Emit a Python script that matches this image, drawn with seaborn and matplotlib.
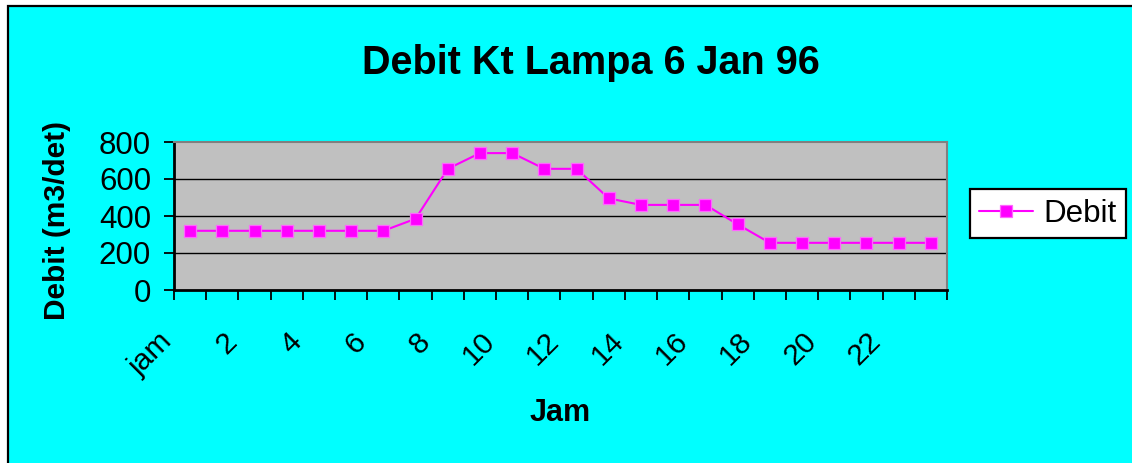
import matplotlib
matplotlib.use("Agg")
import matplotlib.pyplot as plt
import matplotlib.transforms as mtransforms
import seaborn as sns
import pandas as pd
import numpy as np
from matplotlib.patches import Rectangle

# ---- data ----
hours = list(range(24))
debit = [320, 320, 320, 320, 320, 320, 320, 385, 655, 740, 740, 655,
         655, 495, 460, 460, 460, 355, 255, 255, 255, 255, 255, 255]
tick_positions = list(range(0, 24, 2))
tick_labels = ["jam", "2", "4", "6", "8", "10", "12", "14", "16", "18", "20", "22"]
y_ticks = [0, 200, 400, 600, 800]
series_name = "Debit"

df = pd.DataFrame({"Jam": hours, series_name: debit})

sns.set_style("ticks")
plt.rcParams['font.family'] = ['Liberation Sans', 'DejaVu Sans']
plt.rcParams['text.color'] = 'black'
plt.rcParams['axes.labelcolor'] = 'black'
plt.rcParams['xtick.color'] = 'black'
plt.rcParams['ytick.color'] = 'black'

W, H = 1132, 463
fig = plt.figure(figsize=(W / 100, H / 100), dpi=100, facecolor="white")

# cyan chart area with black border on left/top
bg = Rectangle((8 / W, -0.1), 1.2, 1.1 - 6 / H, transform=fig.transFigure,
               facecolor="#00FFFF", edgecolor="black", linewidth=1.6, zorder=-10)
fig.patches.append(bg)

left, right, top, bottom = 174, 947, 142, 290
ax = fig.add_axes([left / W, 1 - bottom / H, (right - left) / W, (bottom - top) / H])
ax.set_facecolor("#C0C0C0")

sns.lineplot(data=df, x="Jam", y=series_name, ax=ax, color="#FF00FF",
             linewidth=1.5, marker="s", markersize=9,
             markerfacecolor="#FF00FF", markeredgecolor="#FF66FF",
             markeredgewidth=0.9, label=series_name, legend=False, zorder=5)

ax.set_xlim(-0.5, 23.5)
ax.set_ylim(0, 800)
ax.set_yticks(y_ticks)
ax.set_yticklabels([str(v) for v in y_ticks], fontsize=22.5)
ax.set_xticks(tick_positions)
ax.set_xticklabels(tick_labels, fontsize=21.5, rotation=45, ha="right",
                   va="center", rotation_mode="anchor")
ax.set_xticks(np.arange(-0.5, 24, 1), minor=True)
ax.tick_params(axis="x", which="major", length=0, pad=34)
ax.tick_params(axis="x", which="minor", length=7.5, width=1.3, color="black", direction="out")
ax.tick_params(axis="y", length=7.5, width=1.3, color="black", direction="out", pad=9)

offset = mtransforms.ScaledTranslation(-22 / 100, 0, fig.dpi_scale_trans)
for lbl in ax.get_xticklabels():
    lbl.set_transform(lbl.get_transform() + offset)

for y in y_ticks[1:-1]:
    ax.axhline(y, color="black", linewidth=1.0, zorder=1)

ax.spines["left"].set_color("black")
ax.spines["left"].set_linewidth(2)
ax.spines["bottom"].set_color("black")
ax.spines["bottom"].set_linewidth(2)
ax.spines["top"].set_color("#808080")
ax.spines["top"].set_linewidth(1.5)
ax.spines["right"].set_color("#808080")
ax.spines["right"].set_linewidth(1.5)
ax.set_xlabel("")
ax.set_ylabel("")

fig.text(591 / W, 1 - 63 / H, "Debit Kt Lampa 6 Jan 96", fontsize=28.5,
         fontweight="bold", ha="center", va="center", color="black")
fig.text(57 / W, 1 - 221 / H, "Debit (m3/det)", fontsize=21.5, fontweight="bold",
         rotation=90, ha="center", va="center", color="black")
fig.text(560 / W, 1 - 413 / H, "Jam", fontsize=22, fontweight="bold",
         ha="center", va="center", color="black")

handles, labels = ax.get_legend_handles_labels()
leg = fig.legend(handles, labels, loc="center left",
                 bbox_to_anchor=(970 / W, 1 - 213.5 / H), fontsize=22.5,
                 frameon=True, fancybox=False, edgecolor="black",
                 handlelength=1.7, handletextpad=0.35, borderpad=0.3,
                 borderaxespad=0, labelcolor="black")
leg.get_frame().set_linewidth(1.6)
leg.get_frame().set_facecolor("white")
leg.get_frame().set_alpha(1)

fig.savefig("out.png", dpi=100, facecolor="white")
